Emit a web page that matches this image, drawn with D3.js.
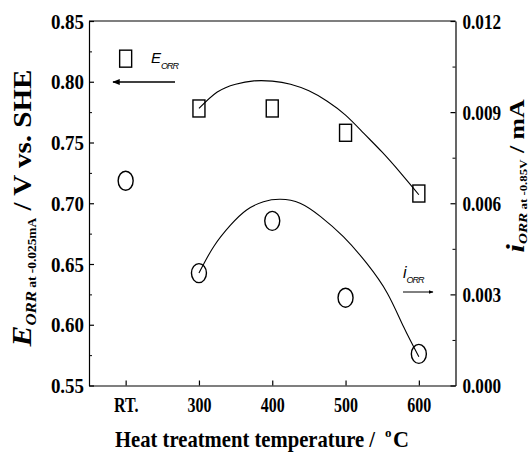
<!DOCTYPE html>
<html>
<head>
<meta charset="utf-8">
<script src="https://cdn.jsdelivr.net/npm/d3@7"></script>
<style>
  body { margin: 0; background: #fff; }
  svg text { font-family: "Liberation Serif", "Times New Roman", serif; font-weight: bold; fill: #000; }
</style>
</head>
<body>
<div id="chart"></div>
<script>
// category labels on the x axis, RT is drawn at the 200 slot
var xLabels = ["RT.", "300", "400", "500", "600"];
var temps = [200, 300, 400, 500, 600];

// E_ORR (left axis, squares) and i_ORR (right axis, circles)
var eOrr = [0.819, 0.778, 0.778, 0.758, 0.708];
var iOrr = [0.00674, 0.0037, 0.00542, 0.00289, 0.00104];

// fitted curves
var eFitT = [300, 325, 350, 375, 400, 425, 450, 475, 500, 525, 550, 575, 600];
var eFitV = [0.778, 0.7915, 0.798, 0.8007, 0.8005, 0.798, 0.7925, 0.784, 0.7725, 0.7575, 0.742, 0.725, 0.707];
var iFitT = [300, 320, 343, 365, 388, 411, 438, 466, 497, 529, 557, 579, 600];
var iFitV = [0.0037, 0.00457, 0.00528, 0.00578, 0.00605, 0.00613, 0.0060, 0.00556, 0.0049, 0.00402, 0.00304, 0.00194, 0.00095];

var leftTicks = [0.55, 0.60, 0.65, 0.70, 0.75, 0.80, 0.85];
var rightTicks = [0, 0.003, 0.006, 0.009, 0.012];

function squeeze(sel, k) {
    sel.each(function () {
        var w = this.getComputedTextLength();
        d3.select(this).attr("textLength", w * k).attr("lengthAdjust", "spacingAndGlyphs");
    });
}

function drawChart() {
    var svgWidth = 530, svgHeight = 452;
    var margin = { top: 21, right: 74.5, bottom: 66.5, left: 89 },
        width = svgWidth - margin.left - margin.right,
        height = svgHeight - margin.top - margin.bottom;

    var svg = d3.select("#chart").append("svg")
        .attr("width", svgWidth)
        .attr("height", svgHeight);

    var g = svg.append("g")
        .attr("transform", "translate(" + margin.left + "," + margin.top + ")");

    var x = d3.scaleLinear().domain([150, 650]).range([0, width]);
    var yL = d3.scaleLinear().domain([0.55, 0.85]).range([height, 0]);
    var yR = d3.scaleLinear().domain([0, 0.012]).range([height, 0]);

    // minor ticks
    g.append("g")
        .call(d3.axisLeft(yL).tickValues(d3.range(0.575, 0.85, 0.05)).tickSize(-3).tickFormat(""))
        .call(s => s.select(".domain").remove());
    g.append("g")
        .attr("transform", "translate(" + width + ",0)")
        .call(d3.axisRight(yR).tickValues(d3.range(0.0015, 0.012, 0.003)).tickSize(-3).tickFormat(""))
        .call(s => s.select(".domain").remove());

    // major axes
    var axL = g.append("g")
        .call(d3.axisLeft(yL).tickValues(leftTicks).tickSize(-5).tickPadding(5).tickSizeOuter(0)
            .tickFormat(d3.format(".2f")));
    var axR = g.append("g")
        .attr("transform", "translate(" + width + ",0)")
        .call(d3.axisRight(yR).tickValues(rightTicks).tickSize(-5).tickPadding(7).tickSizeOuter(0)
            .tickFormat(d3.format(".3f")));
    var axB = g.append("g")
        .attr("transform", "translate(0," + height + ")")
        .call(d3.axisBottom(x).tickValues(temps).tickSize(-5).tickPadding(12).tickSizeOuter(0)
            .tickFormat((d, i) => xLabels[i]));

    [axL, axR, axB].forEach(function (a) {
        a.selectAll("text").style("font-size", "22px").style("font-family", null);
        a.selectAll("line, path").attr("stroke", "#000").attr("stroke-width", 1.2);
    });
    axB.selectAll("text").style("font-size", "20px");
    squeeze(axL.selectAll("text"), 0.86);
    squeeze(axR.selectAll("text"), 0.78);
    squeeze(axB.selectAll("text"), 0.8);

    // top border
    g.append("line")
        .attr("x1", 0).attr("x2", width).attr("y1", 0).attr("y2", 0)
        .attr("stroke", "#000").attr("stroke-width", 1.2);

    // fit curves
    var eLine = d3.line().curve(d3.curveNatural)
        .x((d, i) => x(eFitT[i])).y(d => yL(d));
    var iLine = d3.line().curve(d3.curveNatural)
        .x((d, i) => x(iFitT[i])).y(d => yR(d));

    g.append("path").datum(eFitV).attr("d", eLine)
        .attr("fill", "none").attr("stroke", "#000").attr("stroke-width", 1.1);
    g.append("path").datum(iFitV).attr("d", iLine)
        .attr("fill", "none").attr("stroke", "#000").attr("stroke-width", 1.1);

    // markers
    g.selectAll(".sq")
        .data(eOrr)
        .enter().append("rect")
        .attr("class", "sq")
        .attr("x", (d, i) => x(temps[i]) - 6)
        .attr("y", d => yL(d) - 8.5)
        .attr("width", 12)
        .attr("height", 17)
        .attr("fill", "none")
        .attr("stroke", "#000")
        .attr("stroke-width", 1.4);

    g.selectAll(".ci")
        .data(iOrr)
        .enter().append("ellipse")
        .attr("class", "ci")
        .attr("cx", (d, i) => x(temps[i]))
        .attr("cy", d => yR(d))
        .attr("rx", 7.5)
        .attr("ry", 9.5)
        .attr("fill", "none")
        .attr("stroke", "#000")
        .attr("stroke-width", 1.4);

    // legend labels with arrows
    svg.append("defs").append("marker")
        .attr("id", "ah")
        .attr("viewBox", "0 0 10 10")
        .attr("refX", 9).attr("refY", 5)
        .attr("markerWidth", 5).attr("markerHeight", 5)
        .attr("orient", "auto-start-reverse")
        .append("path").attr("d", "M0,1L10,5L0,9z").attr("fill", "#000");

    var eLab = svg.append("text").attr("x", 151).attr("y", 63)
        .style("font-family", "'Liberation Sans', Arial, sans-serif").style("font-weight", "normal");
    eLab.append("tspan").text("E").style("font-style", "italic").style("font-size", "15px");
    eLab.append("tspan").text("ORR").attr("dy", 6).style("font-style", "italic").style("font-size", "9px")
        .style("letter-spacing", "-1px");
    svg.append("line").attr("x1", 175).attr("x2", 113).attr("y1", 82).attr("y2", 82)
        .attr("stroke", "#000").attr("stroke-width", 1.5).attr("marker-end", "url(#ah)");

    var iLab = svg.append("text").attr("x", 403).attr("y", 278)
        .style("font-family", "'Liberation Sans', Arial, sans-serif").style("font-weight", "normal");
    iLab.append("tspan").text("i").style("font-style", "italic").style("font-size", "16px");
    iLab.append("tspan").text("ORR").attr("dy", 5).style("font-style", "italic").style("font-size", "9px")
        .style("letter-spacing", "-1px");
    svg.append("line").attr("x1", 403).attr("x2", 433).attr("y1", 292).attr("y2", 292)
        .attr("stroke", "#000").attr("stroke-width", 1).attr("marker-end", "url(#ah)");

    // x axis title
    var xt = svg.append("text").attr("x", 115).attr("y", 447).style("font-size", "23px");
    xt.append("tspan").text("Heat treatment temperature /")
        .attr("textLength", 260).attr("lengthAdjust", "spacingAndGlyphs");
    xt.append("tspan").text("o").attr("x", 385).attr("dy", -10).style("font-size", "13px");
    xt.append("tspan").text("C").attr("x", 393).attr("dy", 10)
        .attr("textLength", 16).attr("lengthAdjust", "spacingAndGlyphs");

    // left axis title
    var lt = svg.append("text").attr("transform", "translate(31,208) rotate(-90)")
        .attr("text-anchor", "middle").attr("textLength", 277).attr("lengthAdjust", "spacingAndGlyphs");
    lt.append("tspan").text("E").style("font-style", "italic").style("font-size", "28px");
    lt.append("tspan").text("ORR").attr("dy", 5).style("font-style", "italic").style("font-size", "15px");
    lt.append("tspan").text(" at -0.025mA").style("font-size", "12px");
    lt.append("tspan").text(" / V vs. SHE").attr("dy", -5).style("font-size", "26px");

    // right axis title
    var rt = svg.append("text").attr("transform", "translate(524,176) rotate(-90)")
        .attr("text-anchor", "middle").attr("textLength", 153).attr("lengthAdjust", "spacingAndGlyphs");
    rt.append("tspan").text("i").style("font-style", "italic").style("font-size", "26px");
    rt.append("tspan").text("ORR").attr("dy", 3).style("font-style", "italic").style("font-size", "13px");
    rt.append("tspan").text(" at -0.85V").style("font-size", "11px");
    rt.append("tspan").text(" / mA").attr("dy", -3).style("font-size", "22px");
}

drawChart();
</script>
</body>
</html>
